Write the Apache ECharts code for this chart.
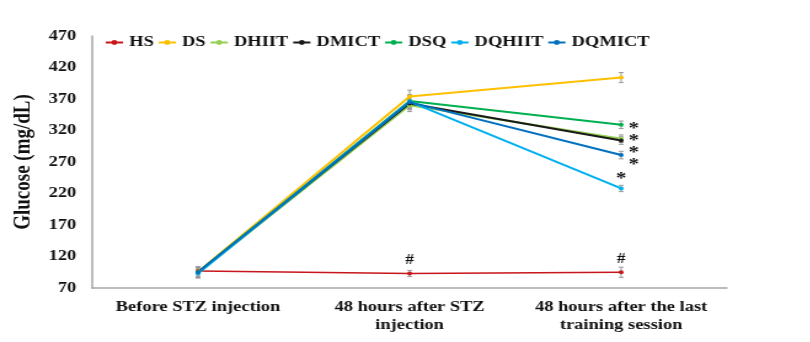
<!DOCTYPE html>
<html>
<head>
<meta charset="utf-8">
<script src="https://cdn.jsdelivr.net/npm/echarts@6/dist/echarts.min.js"></script>
<style>
  html, body { margin: 0; padding: 0; background: #fff; overflow: hidden; }
  /* Times-style text here runs wide, so the drawing is laid out narrower and stretched */
  #chart { width: 659px; height: 342px; transform: scaleX(1.23); transform-origin: 0 0; }
</style>
</head>
<body>
<div id="chart"></div>
<script>
// Time points
const timePoints = ['Before STZ injection', '48 hours after STZ\ninjection', '48 hours after the last\ntraining session'];

// Y axis
const yMin = 70, yMax = 470, yStep = 50;

// Group means (mg/dL)
const groups = ['HS', 'DS', 'DHIIT', 'DMICT', 'DSQ', 'DQHIIT', 'DQMICT'];
const HS     = [97, 93, 95];
const DS     = [96, 374, 404];
const DHIIT  = [94, 360, 307];
const DMICT  = [95, 363, 304];
const DSQ    = [95, 367, 329];
const DQHIIT = [93, 366, 228];
const DQMICT = [95, 365, 281];

// Standard errors
const HS_err     = [6, 5, 8];
const DS_err     = [8, 10, 8];
const DHIIT_err  = [8, 10, 6];
const DMICT_err  = [8, 10, 6];
const DSQ_err    = [8, 10, 6];
const DQHIIT_err = [7, 10, 5];
const DQMICT_err = [7, 10, 6];

// Significance marks
const HS_sig     = ['', '#', '#'];
const DHIIT_sig  = ['', '', '*'];
const DMICT_sig  = ['', '', '*'];
const DSQ_sig    = ['', '', '*'];
const DQHIIT_sig = ['', '', '*'];
const DQMICT_sig = ['', '', '*'];

const values = [HS, DS, DHIIT, DMICT, DSQ, DQHIIT, DQMICT];
const errors = [HS_err, DS_err, DHIIT_err, DMICT_err, DSQ_err, DQHIIT_err, DQMICT_err];
const marks  = [HS_sig, null, DHIIT_sig, DMICT_sig, DSQ_sig, DQHIIT_sig, DQMICT_sig];
const colors = ['#C8161D', '#FFC000', '#92D050', '#1a1a1a', '#00B050', '#00B0F0', '#0070C0'];

const FONT = '"Liberation Serif", "Times New Roman", serif';

// where each mark sits relative to its point
const markPlacement = {
  HS:     { position: 'top', offset: [0, 2] },
  DHIIT:  { position: 'right', offset: [-2, 2] },
  DMICT:  { position: 'right', offset: [-2, 12] },
  DSQ:    { position: 'right', offset: [-2, 4] },
  DQHIIT: { position: 'top', offset: [0, 7] },
  DQMICT: { position: 'right', offset: [-2, 10] }
};

const series = [];

// error bars
groups.forEach((g, k) => {
  series.push({
    type: 'custom',
    name: g + ' SE',
    z: 1,
    silent: true,
    data: values[k].map((v, i) => [i, v, errors[k][i]]),
    encode: { x: 0, y: 1 },
    renderItem: (params, api) => {
      const i = api.value(0), v = api.value(1), e = api.value(2);
      const hi = api.coord([i, v + e]);
      const lo = api.coord([i, v - e]);
      const w = 2;
      const style = { stroke: '#9a9a9a', lineWidth: 1 };
      return {
        type: 'group',
        children: [
          { type: 'line', shape: { x1: hi[0], y1: hi[1], x2: lo[0], y2: lo[1] }, style },
          { type: 'line', shape: { x1: hi[0] - w, y1: hi[1], x2: hi[0] + w, y2: hi[1] }, style },
          { type: 'line', shape: { x1: lo[0] - w, y1: lo[1], x2: lo[0] + w, y2: lo[1] }, style }
        ]
      };
    }
  });
});

// mean lines
groups.forEach((g, k) => {
  const sig = marks[k];
  const place = markPlacement[g];
  series.push({
    type: 'line',
    name: g,
    z: 3,
    symbol: 'circle',
    symbolSize: 4,
    color: colors[k],
    lineStyle: { width: g === 'HS' ? 1.6 : 2, color: colors[k] },
    itemStyle: { color: colors[k] },
    data: values[k].map((v, i) => {
      if (sig && sig[i]) {
        return {
          value: v,
          label: {
            show: true,
            formatter: sig[i],
            position: place.position,
            offset: place.offset,
            distance: 6,
            color: '#111',
            fontFamily: FONT,
            fontWeight: 'bold',
            fontSize: sig[i] === '*' ? 17 : 14
          }
        };
      }
      return v;
    })
  });
});

const chart = echarts.init(document.getElementById('chart'), null, { renderer: 'canvas' });
chart.setOption({
  animation: false,
  backgroundColor: '#fff',
  grid: { left: 75, right: 68, top: 36, bottom: 54 },
  legend: {
    data: groups,
    left: 80,
    top: 30,
    itemWidth: 14,
    itemHeight: 6,
    itemGap: 3,
    textStyle: { fontFamily: FONT, fontWeight: 'bold', fontSize: 15, color: '#111' }
  },
  xAxis: {
    type: 'category',
    data: timePoints,
    boundaryGap: true,
    axisLine: { lineStyle: { color: '#a6a6a6', width: 1.5 } },
    axisTick: { show: false },
    axisLabel: {
      interval: 0,
      margin: 10,
      fontFamily: FONT,
      fontWeight: 'bold',
      fontSize: 15,
      lineHeight: 18,
      color: '#111'
    }
  },
  yAxis: {
    type: 'value',
    min: yMin,
    max: yMax,
    interval: yStep,
    name: 'Glucose (mg/dL)',
    nameLocation: 'middle',
    nameGap: 37,
    nameTextStyle: { fontFamily: FONT, fontWeight: 'bold', fontSize: 19, color: '#111' },
    axisLine: { show: true, lineStyle: { color: '#a6a6a6', width: 1.5 } },
    axisTick: { show: false },
    splitLine: { show: false },
    axisLabel: { margin: 13, fontFamily: FONT, fontWeight: 'bold', fontSize: 15, color: '#111' }
  },
  series
});
</script>
</body>
</html>
